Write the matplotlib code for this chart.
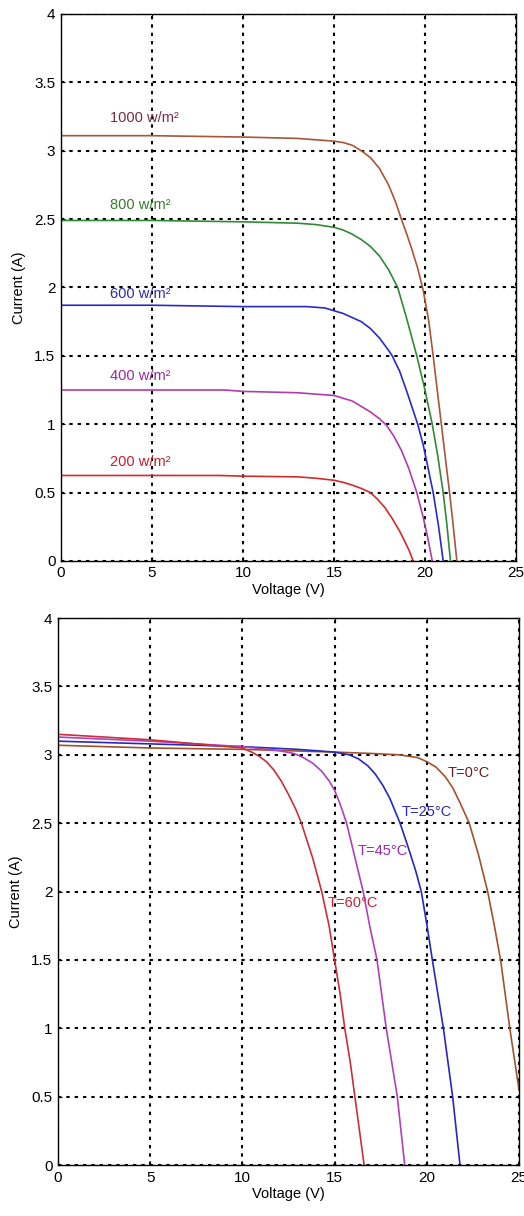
import matplotlib
matplotlib.use("Agg")
from matplotlib import pyplot as plt

plt.rcParams['font.family'] = ['Liberation Sans', 'DejaVu Sans']
plt.rcParams['font.size'] = 10.5

# irradiance curves (top panel), voltage in V, current in A
v_1000 = [0, 5, 10, 13, 15, 15.5, 16, 16.5, 17, 17.5, 18, 18.4, 18.7, 19, 19.3, 19.6, 19.9,
          20.2, 20.45, 20.7, 20.9, 21.15, 21.35, 21.55, 21.75]
i_1000 = [3.11, 3.11, 3.10, 3.09, 3.07, 3.06, 3.04, 3.0, 2.95, 2.87, 2.75, 2.62, 2.5, 2.39, 2.27, 2.14, 1.98,
          1.76, 1.5, 1.22, 1.0, 0.72, 0.5, 0.26, 0.0]
v_800 = [0, 5, 10, 13, 14, 15, 15.5, 16, 16.5, 17, 17.5, 18, 18.5, 19.0, 19.55, 20.0, 20.4, 20.7, 21.0, 21.2, 21.4]
i_800 = [2.49, 2.49, 2.48, 2.47, 2.46, 2.44, 2.42, 2.39, 2.35, 2.3, 2.23, 2.13, 2.0, 1.77, 1.5, 1.25, 1.0, 0.77, 0.5, 0.27, 0.0]
v_600 = [0, 5, 10, 13.5, 14.5, 15, 15.5, 16, 16.5, 17, 17.5, 18, 18.2, 18.6, 19.0, 19.3, 19.6, 19.9, 20.2, 20.45, 20.75, 21.0]
i_600 = [1.87, 1.87, 1.86, 1.86, 1.85, 1.83, 1.81, 1.78, 1.75, 1.7, 1.63, 1.54, 1.5, 1.39, 1.24, 1.12, 1.0, 0.85, 0.66, 0.5, 0.25, 0.0]
v_400 = [0, 5, 9, 10, 13, 14, 15, 15.5, 16, 16.5, 17, 17.5, 17.9, 18.3, 18.7, 19.1, 19.55, 19.9, 20.15, 20.4]
i_400 = [1.25, 1.25, 1.25, 1.24, 1.23, 1.22, 1.21, 1.19, 1.17, 1.13, 1.09, 1.04, 0.99, 0.91, 0.81, 0.68, 0.5, 0.32, 0.17, 0.0]
v_200 = [0, 5, 8.7, 10, 13, 14, 15, 15.5, 16, 16.5, 17, 17.4, 17.8, 18.2, 18.6, 18.9, 19.15, 19.35]
i_200 = [0.625, 0.625, 0.625, 0.62, 0.615, 0.605, 0.59, 0.575, 0.555, 0.53, 0.5, 0.45, 0.39, 0.31, 0.22, 0.14, 0.07, 0.0]

# temperature curves (bottom panel)
v_t0 = [0, 5, 10, 15, 17, 18.5, 19.5, 20.0, 20.5, 21, 21.4, 21.8, 22.3, 22.8, 23.3, 23.65, 24.0, 24.5, 25]
i_t0 = [3.07, 3.05, 3.04, 3.02, 3.01, 3.0, 2.98, 2.95, 2.91, 2.84, 2.76, 2.65, 2.5, 2.27, 2.0, 1.76, 1.5, 1.0, 0.55]
v_t25 = [0, 5, 10, 13, 15, 15.8, 16.3, 16.8, 17.2, 17.6, 18.0, 18.55, 19.0, 19.4, 19.7, 20.0, 20.3, 20.6, 20.9, 21.15, 21.4, 21.6, 21.8]
i_t25 = [3.10, 3.08, 3.06, 3.04, 3.02, 3.0, 2.97, 2.92, 2.86, 2.78, 2.68, 2.5, 2.32, 2.15, 2.0, 1.76, 1.5, 1.25, 1.0, 0.75, 0.5, 0.25, 0.0]
v_t45 = [0, 5, 10, 12, 12.8, 13.3, 13.8, 14.3, 14.7, 15.0, 15.3, 15.65, 16.1, 16.55, 16.9, 17.3, 17.55, 17.8, 18.1, 18.4, 18.6, 18.8]
i_t45 = [3.13, 3.1, 3.06, 3.03, 3.01, 2.98, 2.94, 2.88, 2.81, 2.74, 2.64, 2.5, 2.25, 2.0, 1.75, 1.5, 1.25, 1.0, 0.75, 0.5, 0.25, 0.0]
v_t60 = [0, 5, 10, 10.5, 10.9, 11.3, 11.7, 12.1, 12.5, 12.9, 13.2, 13.8, 14.3, 14.7, 15.0, 15.3, 15.55, 15.85, 16.1, 16.35, 16.6]
i_t60 = [3.15, 3.11, 3.05, 3.02, 2.99, 2.95, 2.89, 2.81, 2.71, 2.6, 2.5, 2.25, 2.0, 1.75, 1.5, 1.25, 1.0, 0.75, 0.5, 0.25, 0.0]

x_ticks = [0, 5, 10, 15, 20, 25]
y_ticks = [0, 0.5, 1, 1.5, 2, 2.5, 3, 3.5, 4]
y_labels = ['0', '0.5', '1', '1.5', '2', '2.5', '3', '3.5', '4']

fig = plt.figure(figsize=(5.24, 12.16), dpi=100)
ax1 = fig.add_axes([0.1164, 0.5387, 0.8683, 0.4498])
ax2 = fig.add_axes([0.1107, 0.0419, 0.8798, 0.4498])


def style(ax):
    ax.set_xlim(0, 25)
    ax.set_ylim(0, 4)
    ax.set_xticks(x_ticks)
    ax.set_yticks(y_ticks)
    ax.set_yticklabels(y_labels)
    ax.grid(True, color='black', linestyle=(0, (1.6, 2.4)), linewidth=1.5)
    ax.set_axisbelow(True)
    ax.tick_params(direction='in', length=3, top=True, right=True, pad=4, labelsize=11)
    for s in ax.spines.values():
        s.set_linewidth(1.0)
    ax.set_xlabel('Voltage (V)', labelpad=2)
    ax.set_ylabel('Current (A)', labelpad=6)


# top: irradiance
ax1.plot(v_1000, i_1000, color='#a8553a', lw=1.2)
ax1.plot(v_800, i_800, color='#2f8a35', lw=1.2)
ax1.plot(v_600, i_600, color='#2a2acc', lw=1.2)
ax1.plot(v_400, i_400, color='#b03cb0', lw=1.2)
ax1.plot(v_200, i_200, color='#d42a2a', lw=1.2)
ax1.text(2.7, 3.24, '1000 w/m²', color='#7a2a40', va='center')
ax1.text(2.7, 2.60, '800 w/m²', color='#3a7a30', va='center')
ax1.text(2.7, 1.95, '600 w/m²', color='#2a2ab0', va='center')
ax1.text(2.7, 1.35, '400 w/m²', color='#9a2a9a', va='center')
ax1.text(2.7, 0.72, '200 w/m²', color='#c81e2e', va='center')
style(ax1)

# bottom: temperature
ax2.plot(v_t0, i_t0, color='#a0522d', lw=1.2)
ax2.plot(v_t25, i_t25, color='#2828c0', lw=1.2)
ax2.plot(v_t45, i_t45, color='#b040b8', lw=1.2)
ax2.plot(v_t60, i_t60, color='#c8303a', lw=1.2)
ax2.text(21.15, 2.87, 'T=0°C', color='#6a2020', va='center')
ax2.text(18.65, 2.58, 'T=25°C', color='#2a2ab8', va='center')
ax2.text(16.27, 2.30, 'T=45°C', color='#9a2aa8', va='center')
ax2.text(14.64, 1.92, 'T=60°C', color='#d02030', va='center')
style(ax2)

fig.savefig('out.png', dpi=100)
